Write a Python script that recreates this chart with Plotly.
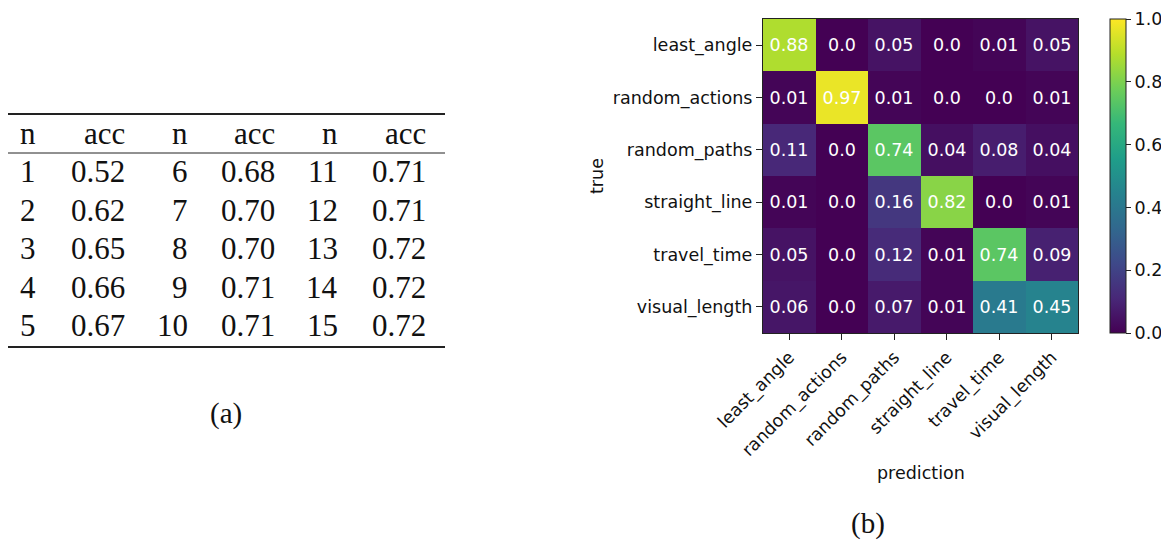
import plotly.graph_objects as go

W, H = 1169, 541
OFF = 8  # page body margin offset

# ---- data ----
classes = ["least_angle", "random_actions", "random_paths", "straight_line", "travel_time", "visual_length"]
conf = [
    [0.88, 0.0, 0.05, 0.0, 0.01, 0.05],
    [0.01, 0.97, 0.01, 0.0, 0.0, 0.01],
    [0.11, 0.0, 0.74, 0.04, 0.08, 0.04],
    [0.01, 0.0, 0.16, 0.82, 0.0, 0.01],
    [0.05, 0.0, 0.12, 0.01, 0.74, 0.09],
    [0.06, 0.0, 0.07, 0.01, 0.41, 0.45],
]
n_values = list(range(1, 16))
acc_values = [0.52, 0.62, 0.65, 0.66, 0.67,
              0.68, 0.70, 0.70, 0.71, 0.71,
              0.71, 0.71, 0.72, 0.72, 0.72]
table_headers = ["n", "acc", "n", "acc", "n", "acc"]
colorbar_ticks = [0.0, 0.2, 0.4, 0.6, 0.8, 1.0]


def px2x(p):
    return (p - OFF) / W


def px2y(p):
    return 1 - (p - OFF) / H


text = [[f"{v:.2f}" if v != 0 else "0.0" for v in row] for row in conf]

FS = 17.5
sans = dict(family="DejaVu Sans", size=FS, color="#111")

fig = go.Figure()
fig.add_trace(go.Heatmap(
    z=conf, x=classes, y=classes,
    colorscale="Viridis", zmin=0, zmax=1,
    text=text, texttemplate="%{text}",
    textfont=dict(family="DejaVu Sans", size=FS, color="white"),
    colorbar=dict(
        x=px2x(1110), xanchor="left",
        y=px2y((19 + 333) / 2), yanchor="middle",
        len=(333 - 19) / H, lenmode="fraction",
        thickness=16, thicknessmode="pixels",
        outlinecolor="#222", outlinewidth=1,
        tickvals=colorbar_ticks, tickformat=".1f",
        ticks="outside", ticklen=5, tickcolor="#222",
        tickfont=sans,
        xpad=0, ypad=0,
    ),
    hoverinfo="skip",
))

axis_common = dict(
    showline=True, mirror=True, linecolor="#222", linewidth=1.2,
    ticks="outside", ticklen=6, tickcolor="#222", tickwidth=1.2,
    showgrid=False, zeroline=False, automargin=False,
    tickfont=sans,
)
fig.update_layout(
    width=W, height=H,
    margin=dict(l=0, r=0, t=0, b=0, autoexpand=False),
    paper_bgcolor="white", plot_bgcolor="white",
    xaxis=dict(domain=[px2x(763), px2x(1078)], tickangle=-45, **axis_common),
    yaxis=dict(domain=[px2y(333), px2y(19)], autorange="reversed", **axis_common),
    showlegend=False,
)

annotations = []
# axis titles
annotations.append(dict(text="prediction", x=px2x(921), y=px2y(473), xref="paper", yref="paper",
                        xanchor="center", yanchor="middle", showarrow=False, font=sans))
annotations.append(dict(text="true", x=px2x(597), y=px2y(176), xref="paper", yref="paper", textangle=-90,
                        xanchor="center", yanchor="middle", showarrow=False, font=sans))

# table
serif = dict(family="Liberation Serif", size=31, color="#111")
col_right = [38, 127, 190, 277, 340, 428]
header_y = 133
row_y0, row_dy = 171.5, 38.5
for j, h in enumerate(table_headers):
    annotations.append(dict(text=h, x=px2x(col_right[j]), y=px2y(header_y), xref="paper", yref="paper",
                            xanchor="right", yanchor="middle", showarrow=False, font=serif))
for k in range(3):
    for i in range(5):
        idx = k * 5 + i
        y = px2y(row_y0 + i * row_dy)
        annotations.append(dict(text=str(n_values[idx]), x=px2x(col_right[2 * k]), y=y,
                                xref="paper", yref="paper", xanchor="right", yanchor="middle",
                                showarrow=False, font=serif))
        annotations.append(dict(text=f"{acc_values[idx]:.2f}", x=px2x(col_right[2 * k + 1]), y=y,
                                xref="paper", yref="paper", xanchor="right", yanchor="middle",
                                showarrow=False, font=serif))

# captions
cap = dict(family="Liberation Serif", size=29, color="#111")
annotations.append(dict(text="(a)", x=px2x(226), y=px2y(413), xref="paper", yref="paper",
                        xanchor="center", yanchor="middle", showarrow=False, font=cap))
annotations.append(dict(text="(b)", x=px2x(868), y=px2y(523), xref="paper", yref="paper",
                        xanchor="center", yanchor="middle", showarrow=False, font=cap))
fig.update_layout(annotations=annotations)

shapes = []
for yy, lw in [(114, 1.8), (153, 1.0), (347, 1.8)]:
    shapes.append(dict(type="line", xref="paper", yref="paper",
                       x0=px2x(8), x1=px2x(445), y0=px2y(yy), y1=px2y(yy),
                       line=dict(color="#222", width=lw)))
fig.update_layout(shapes=shapes)

fig.write_html("out.html")
